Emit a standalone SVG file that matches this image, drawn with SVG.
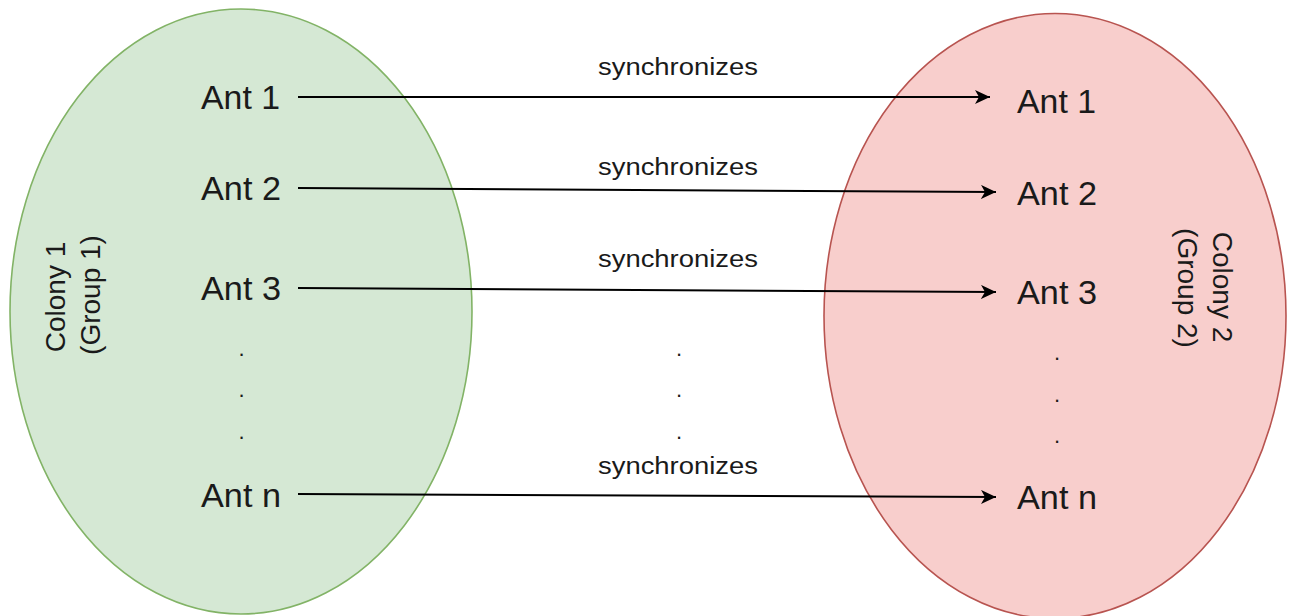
<svg xmlns="http://www.w3.org/2000/svg" width="1294" height="616" viewBox="0 0 1294 616">
  <style>
    .ant { font-family: "Liberation Sans", Arial, sans-serif; font-size: 33px; fill: #1a1a1a; }
    .dot { font-family: "Liberation Sans", Arial, sans-serif; font-size: 22px; fill: #1a1a1a; text-anchor: middle; }
    .lbl { font-family: "Liberation Sans", Arial, sans-serif; font-size: 23px; fill: #1a1a1a; text-anchor: middle; }
    .grp { font-family: "Liberation Sans", Arial, sans-serif; font-size: 28px; fill: #1a1a1a; text-anchor: middle; }
    .edge { fill: none; stroke: #000; stroke-width: 2; }
  </style>
  <defs>
    <marker id="arrow" markerUnits="userSpaceOnUse" markerWidth="16" markerHeight="14" refX="15" refY="7" orient="auto">
      <path d="M0,0 L15,7 L0,14 L4,7 Z" fill="#000"/>
    </marker>
  </defs>

  <rect width="1294" height="616" fill="#ffffff"/>

  <!-- Colony 1 -->
  <g id="colony1">
    <ellipse cx="241" cy="311.5" rx="231" ry="302.5" fill="#d5e8d4" stroke="#82b366" stroke-width="1.6"/>
    <text class="grp" transform="translate(65,297) rotate(-90)">Colony 1</text>
    <text class="grp" transform="translate(100,295) rotate(-90)">(Group 1)</text>
  </g>

  <!-- Colony 2 -->
  <g id="colony2">
    <ellipse cx="1055" cy="316" rx="231" ry="302.5" fill="#f8cecc" stroke="#b85450" stroke-width="1.6"/>
    <text class="grp" transform="translate(1213,287) rotate(90)">Colony 2</text>
    <text class="grp" transform="translate(1178,288) rotate(90)">(Group 2)</text>
  </g>

  <!-- Ants of colony 1 -->
  <g id="c1-ant1"><text class="ant" x="201" y="109" textLength="79" lengthAdjust="spacingAndGlyphs">Ant 1</text></g>
  <g id="c1-ant2"><text class="ant" x="201" y="200" textLength="80" lengthAdjust="spacingAndGlyphs">Ant 2</text></g>
  <g id="c1-ant3"><text class="ant" x="201" y="300" textLength="80" lengthAdjust="spacingAndGlyphs">Ant 3</text></g>
  <g id="c1-dots">
    <text class="dot" x="241.5" y="356">.</text>
    <text class="dot" x="241.5" y="397">.</text>
    <text class="dot" x="241.5" y="439">.</text>
  </g>
  <g id="c1-antn"><text class="ant" x="201" y="507" textLength="80" lengthAdjust="spacingAndGlyphs">Ant n</text></g>

  <!-- Ants of colony 2 -->
  <g id="c2-ant1"><text class="ant" x="1017" y="113" textLength="79" lengthAdjust="spacingAndGlyphs">Ant 1</text></g>
  <g id="c2-ant2"><text class="ant" x="1017" y="205" textLength="80" lengthAdjust="spacingAndGlyphs">Ant 2</text></g>
  <g id="c2-ant3"><text class="ant" x="1017" y="304" textLength="80" lengthAdjust="spacingAndGlyphs">Ant 3</text></g>
  <g id="c2-dots">
    <text class="dot" x="1057" y="360">.</text>
    <text class="dot" x="1057" y="402">.</text>
    <text class="dot" x="1057" y="443">.</text>
  </g>
  <g id="c2-antn"><text class="ant" x="1017" y="509" textLength="80" lengthAdjust="spacingAndGlyphs">Ant n</text></g>

  <!-- Synchronization links -->
  <g id="connectors">
    <path class="edge" d="M298,97 L990,97" marker-end="url(#arrow)"/>
    <path class="edge" d="M298,188 L996,192" marker-end="url(#arrow)"/>
    <path class="edge" d="M298,288 L996,292" marker-end="url(#arrow)"/>
    <path class="edge" d="M298,494 L996,497" marker-end="url(#arrow)"/>
    <text class="lbl" x="678" y="75" textLength="160" lengthAdjust="spacingAndGlyphs">synchronizes</text>
    <text class="lbl" x="678" y="175" textLength="160" lengthAdjust="spacingAndGlyphs">synchronizes</text>
    <text class="lbl" x="678" y="267" textLength="160" lengthAdjust="spacingAndGlyphs">synchronizes</text>
    <text class="lbl" x="678" y="474" textLength="160" lengthAdjust="spacingAndGlyphs">synchronizes</text>
    <text class="dot" x="679" y="356">.</text>
    <text class="dot" x="679" y="397">.</text>
    <text class="dot" x="679" y="439">.</text>
  </g>
</svg>
